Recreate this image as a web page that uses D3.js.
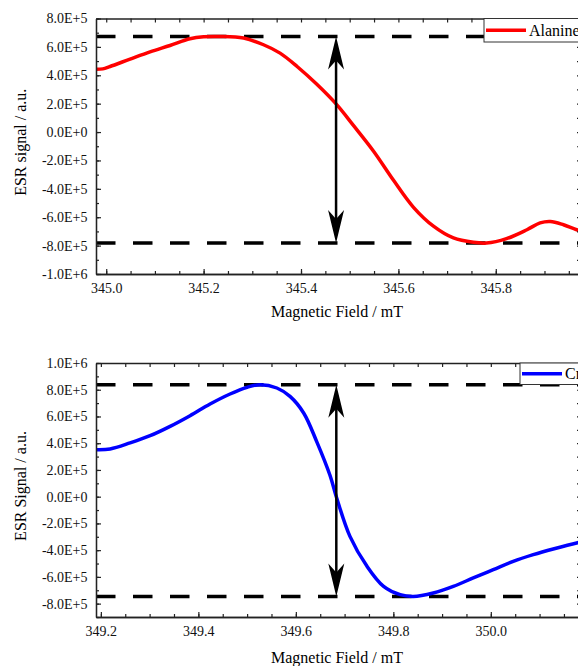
<!DOCTYPE html>
<html>
<head>
<meta charset="utf-8">
<script src="https://cdn.jsdelivr.net/npm/d3@7"></script>
<style>
  html, body { margin: 0; padding: 0; background: #fff; overflow: hidden; }
  svg { display: block; font-family: "Liberation Serif", "Times New Roman", serif; }
</style>
</head>
<body>
<div id="chart"></div>
<script>
// Alanine spectrum (top panel)
const alanineField = [344.979, 344.993, 345.008, 345.049, 345.09, 345.131, 345.172, 345.2, 345.234,
  345.282, 345.323, 345.357, 345.392, 345.432, 345.472, 345.508, 345.549, 345.59, 345.631, 345.672,
  345.713, 345.754, 345.781, 345.822, 345.864, 345.891, 345.912, 345.939, 345.966, 345.99];
const alanineSignal = [4.42e5, 4.45e5, 4.62e5, 5.14e5, 5.65e5, 6.1e5, 6.57e5, 6.71e5, 6.73e5,
  6.62e5, 6.15e5, 5.56e5, 4.62e5, 3.38e5, 1.98e5, 4.5e4, -1.35e5, -3.4e5, -5.3e5, -6.63e5,
  -7.46e5, -7.77e5, -7.82e5, -7.51e5, -6.88e5, -6.4e5, -6.3e5, -6.53e5, -6.88e5, -7.05e5];
const alanineLevels = [6.73e5, -7.82e5];   // dashed peak / trough lines
const alanineArrowAt = 345.472;

// Cr spectrum (bottom panel)
const crField = [349.19, 349.219, 349.26, 349.301, 349.342, 349.383, 349.424, 349.465, 349.5,
  349.527, 349.561, 349.588, 349.616, 349.643, 349.67, 349.683, 349.711, 349.746, 349.78, 349.814,
  349.841, 349.882, 349.923, 349.964, 350.005, 350.046, 350.087, 350.128, 350.176, 350.2];
const crSignal = [3.52e5, 3.57e5, 4.02e5, 4.56e5, 5.26e5, 6.06e5, 6.93e5, 7.68e5, 8.18e5,
  8.38e5, 8.13e5, 7.5e5, 6.26e5, 4.1e5, 1.6e5, 0, -2.97e5, -5.21e5, -6.71e5, -7.33e5,
  -7.46e5, -7.2e5, -6.71e5, -6.08e5, -5.46e5, -4.84e5, -4.34e5, -3.91e5, -3.46e5, -3.3e5];
const crLevels = [8.38e5, -7.46e5];
const crArrowAt = 349.683;

// axis ticks
const topXTicks = [345.0, 345.2, 345.4, 345.6, 345.8];
const topYTicks = [-1e6, -8e5, -6e5, -4e5, -2e5, 0, 2e5, 4e5, 6e5, 8e5];
const botXTicks = [349.2, 349.4, 349.6, 349.8, 350.0];
const botYTicks = [-8e5, -6e5, -4e5, -2e5, 0, 2e5, 4e5, 6e5, 8e5, 1e6];

const W = 578, H = 666;

const svg = d3.select('#chart').append('svg')
  .attr('width', W)
  .attr('height', H);

// 8.0E+5 style labels
function sci(d) {
  if (Math.abs(d) < 1e-9) return '0.0E+0';
  const e = Math.floor(Math.log10(Math.abs(d)) + 1e-9);
  const m = d / Math.pow(10, e);
  return m.toFixed(1) + 'E+' + e;
}

function minorOf(scale, step) {
  const [a, b] = scale.domain();
  const out = [];
  const start = Math.ceil(Math.min(a, b) / step - 1e-6);
  const end = Math.floor(Math.max(a, b) / step + 1e-6);
  for (let i = start; i <= end; i++) out.push(+(i * step).toFixed(6));
  return out;
}

function drawPanel(cfg) {
  const g = svg.append('g');
  const x = d3.scaleLinear().domain(cfg.xDomain).range([96, 581]);
  const y = d3.scaleLinear().domain(cfg.yDomain).range([cfg.bottom, cfg.top]);

  // dashed reference lines
  g.selectAll('line.level')
    .data(cfg.levels)
    .join('line')
    .attr('class', 'level')
    .attr('x1', x.range()[0])
    .attr('x2', x.range()[1])
    .attr('y1', d => y(d))
    .attr('y2', d => y(d))
    .attr('stroke', '#000')
    .attr('stroke-width', 3.5)
    .attr('stroke-dasharray', '19.5,17.5');

  // spectrum
  const pts = cfg.field.map((f, i) => [f, cfg.signal[i]]);
  g.append('path')
    .datum(pts)
    .attr('fill', 'none')
    .attr('stroke', cfg.color)
    .attr('stroke-width', 3.5)
    .attr('stroke-linejoin', 'round')
    .attr('d', d3.line().x(d => x(d[0])).y(d => y(d[1])).curve(d3.curveCatmullRom.alpha(0.5)));

  // double-headed arrow between the levels
  const ax = x(cfg.arrowAt);
  const yTop = y(cfg.levels[0]), yBot = y(cfg.levels[1]);
  g.append('line')
    .attr('x1', ax).attr('x2', ax)
    .attr('y1', yTop + 20).attr('y2', yBot - 20)
    .attr('stroke', '#000')
    .attr('stroke-width', 2.5);
  g.append('path')
    .attr('fill', '#000')
    .attr('d', `M${ax},${yTop} L${ax - 8},${yTop + 33} L${ax},${yTop + 24} L${ax + 8},${yTop + 33} Z`);
  g.append('path')
    .attr('fill', '#000')
    .attr('d', `M${ax},${yBot} L${ax - 8},${yBot - 33} L${ax},${yBot - 24} L${ax + 8},${yBot - 33} Z`);

  // axes: ticks point inward
  const axisColor = '#222';
  const addAxis = (gen, tf) => {
    const a = g.append('g').attr('transform', tf).call(gen);
    a.attr('font-family', null).attr('font-size', null);
    a.select('.domain').attr('stroke', axisColor).attr('stroke-width', 1.3);
    a.selectAll('.tick line').attr('stroke', axisColor).attr('stroke-width', 1.2);
    a.selectAll('text').attr('fill', '#111').style('font-size', '14px')
      .style('font-family', '"Liberation Serif", serif');
    return a;
  };

  const xMinor = minorOf(x, 0.05);
  const yMinor = minorOf(y, 1e5);

  addAxis(d3.axisBottom(x).tickValues(xMinor).tickSize(-3).tickSizeOuter(0).tickFormat(''), `translate(0,${cfg.bottom})`);
  addAxis(d3.axisBottom(x).tickValues(cfg.xTicks).tickSize(-5).tickSizeOuter(0).tickPadding(9)
    .tickFormat(d3.format('.1f')), `translate(0,${cfg.bottom})`);
  addAxis(d3.axisTop(x).tickValues(xMinor).tickSize(-4).tickSizeOuter(0).tickFormat(''), `translate(0,${cfg.top})`);

  addAxis(d3.axisLeft(y).tickValues(yMinor).tickSize(-3).tickSizeOuter(0).tickFormat(''), `translate(96,0)`);
  addAxis(d3.axisLeft(y).tickValues(cfg.yTicks).tickSize(-5).tickSizeOuter(0).tickPadding(8.5)
    .tickFormat(sci), `translate(96,0)`);
  addAxis(d3.axisRight(y).tickValues(yMinor).tickSize(-4).tickSizeOuter(0).tickFormat(''), `translate(581,0)`);

  // axis titles
  g.append('text')
    .attr('x', 337)
    .attr('y', cfg.xTitleY)
    .attr('text-anchor', 'middle')
    .style('font-size', '16px')
    .text('Magnetic Field / mT');

  g.append('text')
    .attr('transform', `translate(26,${(cfg.top + cfg.bottom) / 2 - 4}) rotate(-90)`)
    .attr('text-anchor', 'middle')
    .style('font-size', '16px')
    .text(cfg.yTitle);

  // legend (runs off the right edge like the original)
  const lg = g.append('g').attr('transform', `translate(${cfg.legendX},${cfg.top})`);
  lg.append('rect')
    .attr('x', 0).attr('y', 0)
    .attr('width', 120).attr('height', cfg.legendH)
    .attr('fill', '#fff')
    .attr('stroke', '#333')
    .attr('stroke-width', 1);
  lg.append('line')
    .attr('x1', 2).attr('x2', 42)
    .attr('y1', cfg.legendH / 2).attr('y2', cfg.legendH / 2)
    .attr('stroke', cfg.color)
    .attr('stroke-width', 3.5);
  lg.append('text')
    .attr('x', 45)
    .attr('y', cfg.legendH / 2 + 5.5)
    .style('font-size', '16px')
    .text(cfg.name);
}

drawPanel({
  field: alanineField, signal: alanineSignal, levels: alanineLevels, arrowAt: alanineArrowAt,
  xDomain: [344.979, 345.975], yDomain: [-1e6, 8e5], top: 18.5, bottom: 274,
  xTicks: topXTicks, yTicks: topYTicks, color: '#ff0000', name: 'Alanine',
  yTitle: 'ESR signal / a.u.', xTitleY: 317, legendX: 484, legendH: 23.5
});

drawPanel({
  field: crField, signal: crSignal, levels: crLevels, arrowAt: crArrowAt,
  xDomain: [349.19, 350.185], yDomain: [-9e5, 1e6], top: 363, bottom: 617,
  xTicks: botXTicks, yTicks: botYTicks, color: '#0000ff', name: 'Cr',
  yTitle: 'ESR Signal / a.u.', xTitleY: 663, legendX: 520, legendH: 21.5
});
</script>
</body>
</html>
